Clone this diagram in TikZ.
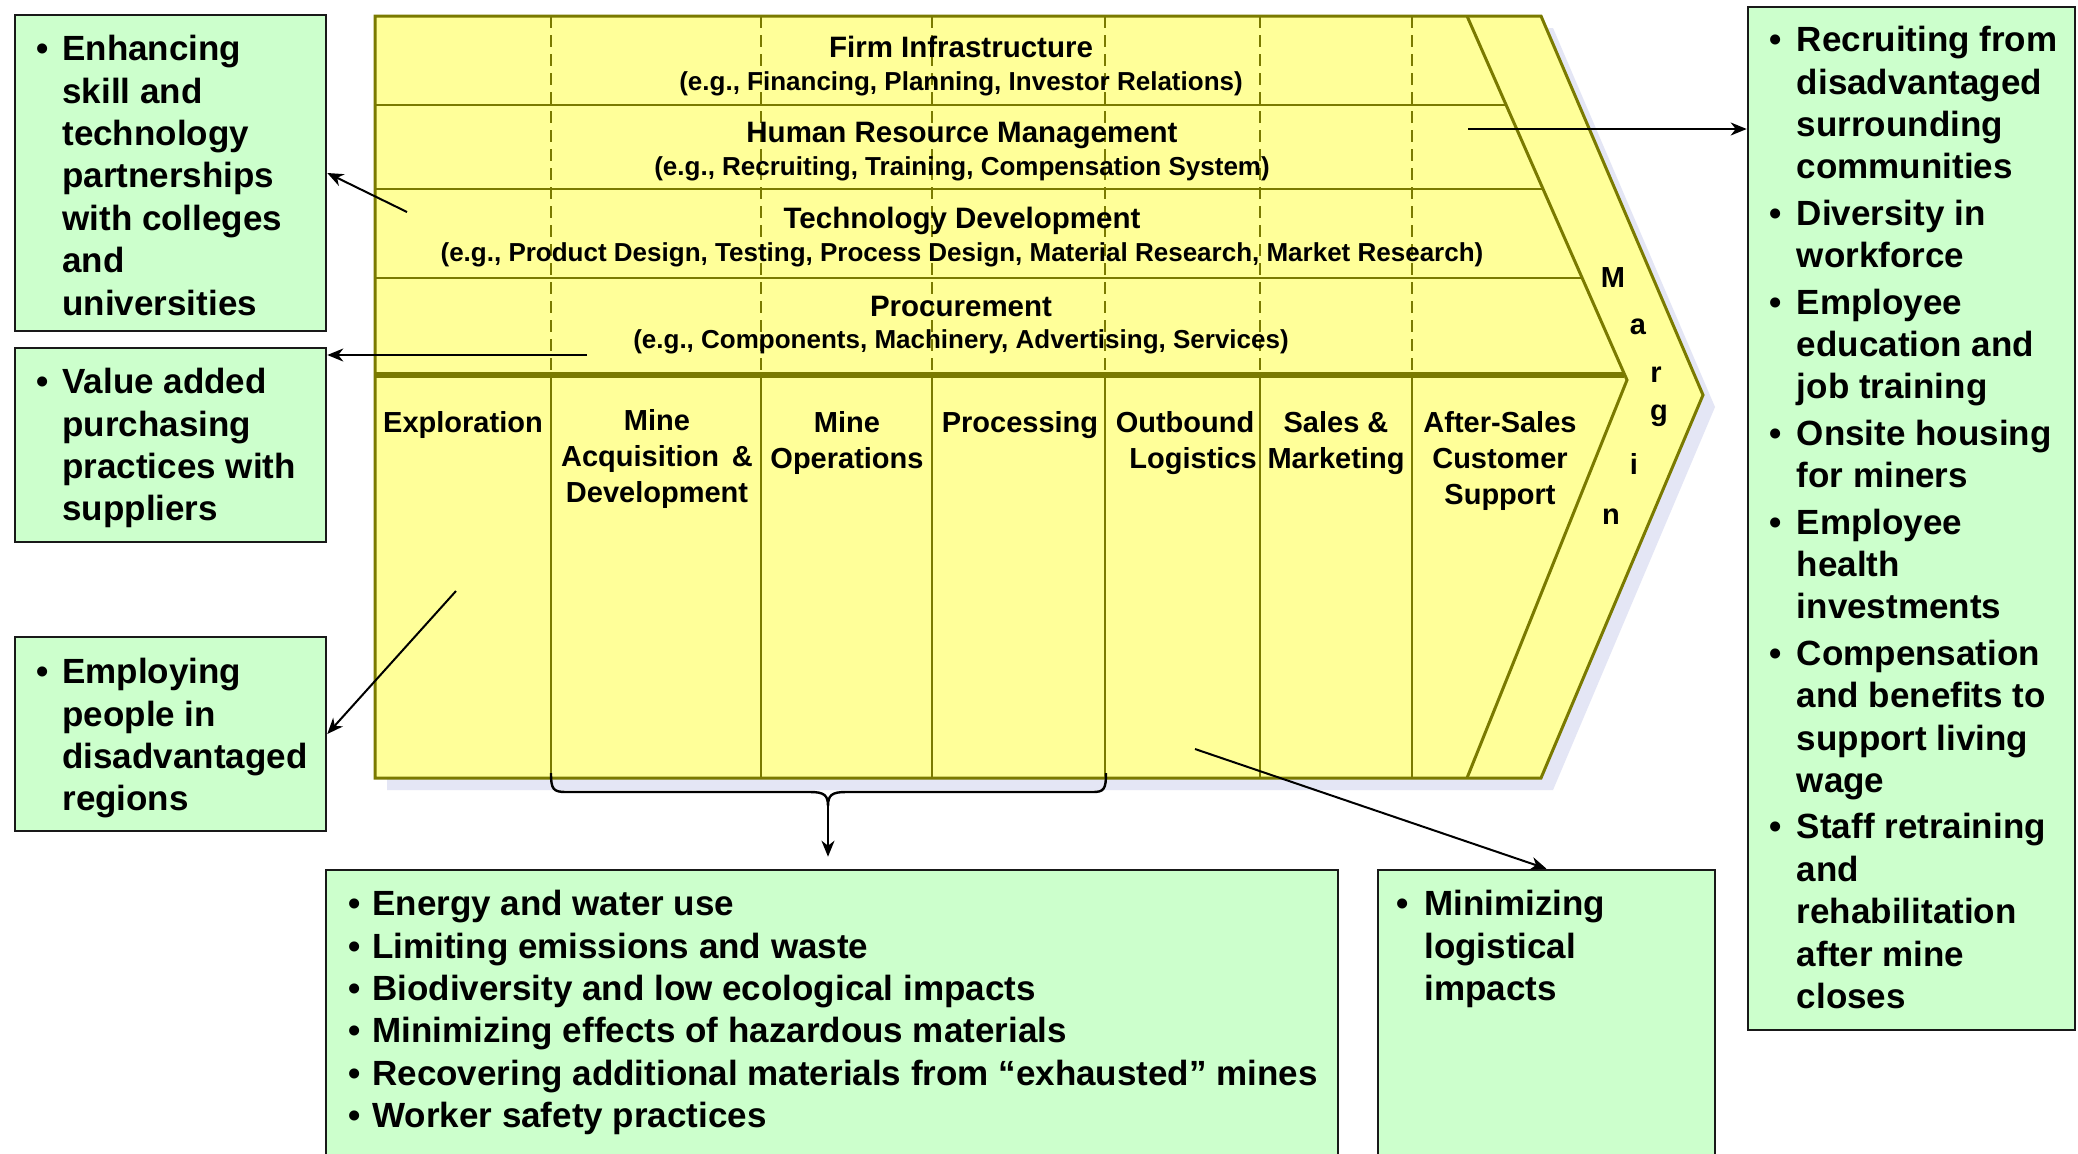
\documentclass[tikz,border=0pt]{standalone}
\usepackage{fontspec}
\setmainfont{Liberation Sans}
\usetikzlibrary{arrows.meta,calc,fit}
\definecolor{chainfill}{RGB}{255,255,153}
\definecolor{chainedge}{RGB}{122,122,0}
\definecolor{boxfill}{RGB}{204,255,204}
\definecolor{shadowc}{RGB}{228,230,245}
\newcommand\lead{\rule{0pt}{0.75em}}
\newcommand\bu[1]{\makebox[#1][l]{\textbullet}}
\newcommand\ii[1]{\hspace*{#1}}
\begin{document}
\begin{tikzpicture}[x=0.5pt,y=-0.5pt,
  gbox/.style={draw=black!90,line width=1.3pt,fill=boxfill,inner sep=0pt},
  btxt/.style={anchor=north west,align=left,inner sep=0pt,font=\fontsize{17.5pt}{21.2pt}\selectfont\bfseries},
  ttl/.style={anchor=base,inner sep=0pt,font=\fontsize{14.75pt}{17pt}\selectfont\bfseries},
  subt/.style={anchor=base,inner sep=0pt,font=\fontsize{13pt}{15pt}\selectfont\bfseries},
  plab/.style={anchor=north,align=center,inner sep=0pt,font=\fontsize{14.5pt}{18pt}\selectfont\bfseries},
  mlet/.style={inner sep=0pt,font=\fontsize{14.5pt}{17pt}\selectfont\bfseries},
  outline/.style={draw=chainedge,line width=1.5pt,line join=miter},
  thinln/.style={draw=chainedge,line width=1pt},
  dashln/.style={draw=chainedge,line width=1pt,dash pattern=on 6pt off 3.5pt},
  conn/.style={draw=black,line width=1pt,-{Stealth[length=8pt,width=6.5pt,inset=2.5pt]}}]
\useasboundingbox (0,0) rectangle (2078,1153);
\clip (0,0) rectangle (2078,1153);
\fill[white] (0,0) rectangle (2078,1153);

% value chain
\fill[shadowc,shift={(12,12)}] (375,16) -- (1541,16) -- (1703,395) -- (1541,778) -- (375,778) -- cycle;
\path[fill=chainfill] (375,16) -- (1541,16) -- (1703,395) -- (1541,778) -- (375,778) -- cycle;
\draw[thinln] (375,105) -- (1506,105);
\draw[thinln] (375,189) -- (1543,189);
\draw[thinln] (375,278) -- (1582,278);
\foreach \cx in {551,761,932,1105,1260,1412}{
  \draw[dashln] (\cx,16) -- (\cx,375);
  \draw[thinln] (\cx,375) -- (\cx,778);
}
\draw[draw=chainedge,line width=2.8pt] (375,375) -- (1624,375);
\draw[outline] (1467,16) -- (1627,380) -- (1467,778);
\draw[outline] (375,16) -- (1541,16) -- (1703,395) -- (1541,778) -- (375,778) -- cycle;

% support activities
\node[ttl] (fi) at (961,57) {Firm Infrastructure};
\node[subt] (fis) at (961,90) {(e.g., Financing, Planning, Investor Relations)};
\node[ttl] (hr) at (962,142) {Human Resource Management};
\node[subt] (hrs) at (962,175) {(e.g., Recruiting, Training, Compensation System)};
\node[ttl] (td) at (962,228) {Technology Development};
\node[subt] (tds) at (962,261) {(e.g., Product Design, Testing, Process Design, Material Research, Market Research)};
\node[ttl] (pr) at (961,316) {Procurement};
\node[subt] (prs) at (961,348) {(e.g., Components, Machinery, Advertising, Services)};

% primary activities
\node[plab] (p1) at (463,410) {\lead Exploration};
\node[plab] (p2) at (657,408) {\lead Mine\\Acquisition\, \&\\Development};
\node[plab] (p3) at (847,410) {\lead Mine\\Operations};
\node[plab] (p4) at (1020,410) {\lead Processing};
\node[plab] (p5) at (1185,410) {\lead Outbound\\\ \ Logistics};
\node[plab] (p6) at (1336,410) {\lead Sales \&\\Marketing};
\node[plab] (p7) at (1500,410) {\lead After-Sales\\Customer\\Support};

% margin
\node[mlet] (m1) at (1613,278) {M};
\node[mlet] (m2) at (1638,327) {a};
\node[mlet] (m3) at (1656,375) {r};
\node[mlet] (m4) at (1659,416) {g};
\node[mlet] (m5) at (1634,464) {i};
\node[mlet] (m6) at (1611,517) {n};

% green boxes
\node[gbox,fit={(15,15) (326,331)}] (lb1) {};
\node[btxt] (lb1t) at (36,34) {\lead\bu{13pt}Enhancing\\\ii{13pt}skill and\\\ii{13pt}technology\\\ii{13pt}partnerships\\\ii{13pt}with colleges\\\ii{13pt}and\\\ii{13pt}universities};
\node[gbox,fit={(15,348) (326,542)}] (lb2) {};
\node[btxt] (lb2t) at (36,367) {\lead\bu{13pt}Value added\\\ii{13pt}purchasing\\\ii{13pt}practices with\\\ii{13pt}suppliers};
\node[gbox,fit={(15,637) (326,831)}] (lb3) {};
\node[btxt] (lb3t) at (36,657) {\lead\bu{13pt}Employing\\\ii{13pt}people in\\\ii{13pt}disadvantaged\\\ii{13pt}regions};
\node[gbox,fit={(1748,7) (2075,1030)}] (rb) {};
\node[btxt] (rbt) at (1769,25) {\lead\bu{13.75pt}Recruiting from\\\ii{13.75pt}disadvantaged\\\ii{13.75pt}surrounding\\\ii{13.75pt}communities\\[2pt]
\bu{13.75pt}Diversity in\\\ii{13.75pt}workforce\\[2pt]
\bu{13.75pt}Employee\\\ii{13.75pt}education and\\\ii{13.75pt}job training\\[2pt]
\bu{13.75pt}Onsite housing\\\ii{13.75pt}for miners\\[2pt]
\bu{13.75pt}Employee\\\ii{13.75pt}health\\\ii{13.75pt}investments\\[2pt]
\bu{13.75pt}Compensation\\\ii{13.75pt}and benefits to\\\ii{13.75pt}support living\\\ii{13.75pt}wage\\[2pt]
\bu{13.75pt}Staff retraining\\\ii{13.75pt}and\\\ii{13.75pt}rehabilitation\\\ii{13.75pt}after mine\\\ii{13.75pt}closes};
\node[gbox,fit={(326,870) (1338,1175)}] (bl) {};
\node[btxt] (blt) at (348,889) {\lead\bu{12pt}Energy and water use\\\bu{12pt}Limiting emissions and waste\\\bu{12pt}Biodiversity and low ecological impacts\\\bu{12pt}Minimizing effects of hazardous materials\\\bu{12pt}Recovering additional materials from “exhausted” mines\\\bu{12pt}Worker safety practices};
\node[gbox,fit={(1378,870) (1715,1175)}] (br) {};
\node[btxt] (brt) at (1396,889) {\lead\bu{14pt}Minimizing\\\ii{14pt}logistical\\\ii{14pt}impacts};

% brace
\coordinate (bracetip) at (828,806);
\draw[black,line width=1.2pt] (551,773) .. controls (551,789) and (553,792) .. (566,792) -- (810,792) .. controls (824,792) and (828,795) .. (bracetip) .. controls (828,795) and (832,792) .. (846,792) -- (1093,792) .. controls (1104,792) and (1106,789) .. (1106,773);

% connectors
\coordinate (s1) at (407,212);
\coordinate (s2) at (587,355);
\coordinate (s3) at (456,591);
\coordinate (s4) at (1468,129);
\coordinate (s5) at (1195,749);
\draw[conn] (s1) -- (lb1.east);
\draw[conn] (s2) -- (s2 -| lb2.east);
\draw[conn] (s3) -- (lb3.east);
\draw[conn] (s4) -- (s4 -| rb.west);
\draw[conn] (s5) -- (br.north);
\draw[conn,shorten >=6pt] (bracetip) -- (bracetip |- bl.north);
\end{tikzpicture}
\end{document}
